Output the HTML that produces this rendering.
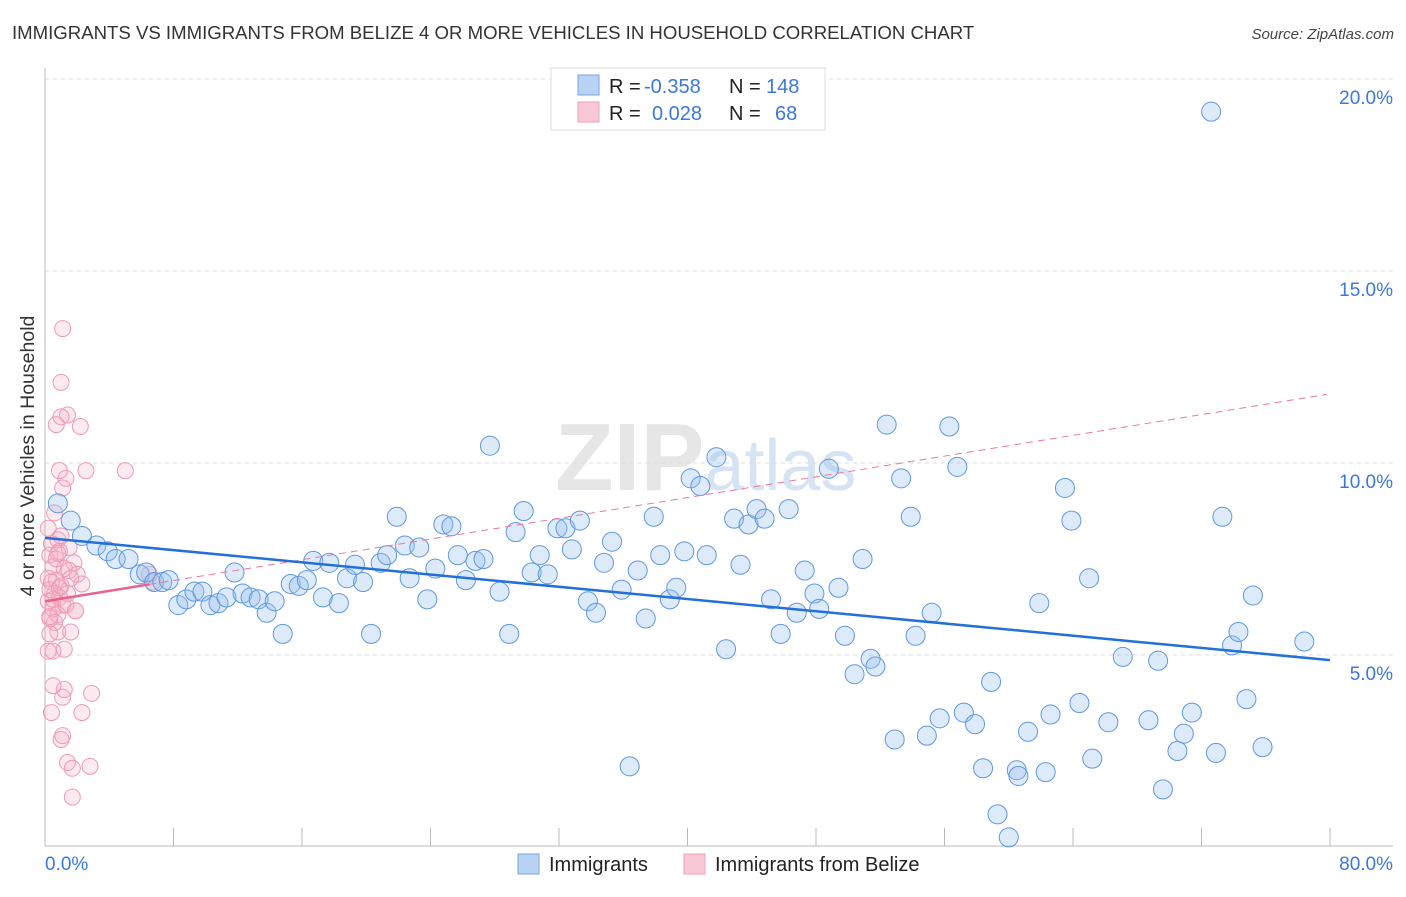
<!DOCTYPE html>
<html><head><meta charset="utf-8">
<style>
body{margin:0;background:#fff;font-family:"Liberation Sans",sans-serif;}
svg text{font-family:"Liberation Sans",sans-serif;}
</style></head>
<body>
<svg id="chart" width="1406" height="892" viewBox="0 0 1406 892" xmlns="http://www.w3.org/2000/svg">
<text x="12" y="39" font-size="18.6" fill="#333">IMMIGRANTS VS IMMIGRANTS FROM BELIZE 4 OR MORE VEHICLES IN HOUSEHOLD CORRELATION CHART</text>
<text x="1394" y="39" font-size="15" fill="#444" font-style="italic" text-anchor="end">Source: ZipAtlas.com</text>
<text x="555" y="490" font-size="96" fill="#e6e6e6" font-family="Liberation Serif" font-weight="bold">ZIP<tspan fill="#d6e3f3" font-family="Liberation Sans" font-weight="normal" font-size="72">atlas</tspan></text>
<g id="grid"></g>
<g id="axes"></g>
<g id="pink"></g>
<g id="blue"></g>
<g id="lines"></g>
<text transform="translate(34,456) rotate(-90)" font-size="19.5" fill="#333" text-anchor="middle">4 or more Vehicles in Household</text>
<text x="45" y="870" font-size="19" fill="#3b78d8">0.0%</text>
<text x="1393" y="870" font-size="19" fill="#3b78d8" text-anchor="end">80.0%</text>
<g>
<rect x="551" y="68" width="274" height="62" fill="#fff" stroke="#ddd"/>
<rect x="578" y="75" width="21" height="20" fill="#b9d3f5" stroke="#7aa6e0"/>
<rect x="578" y="102" width="21" height="20" fill="#f9c7d6" stroke="#f0a0b8"/>
<text x="609" y="93" font-size="20" fill="#222">R =</text>
<text x="644" y="93" font-size="20" fill="#3b78d8">-0.358</text>
<text x="729" y="93" font-size="20" fill="#222">N =</text>
<text x="766" y="93" font-size="20" fill="#3b78d8">148</text>
<text x="609" y="120" font-size="20" fill="#222">R =</text>
<text x="652" y="120" font-size="20" fill="#3b78d8">0.028</text>
<text x="729" y="120" font-size="20" fill="#222">N =</text>
<text x="775" y="120" font-size="20" fill="#3b78d8">68</text>
</g>
<g>
<rect x="518" y="854" width="21" height="20" fill="#b9d3f5" stroke="#7aa6e0"/>
<text x="549" y="871" font-size="20" fill="#222">Immigrants</text>
<rect x="684" y="854" width="21" height="20" fill="#f9c7d6" stroke="#f0a0b8"/>
<text x="715" y="871" font-size="20" fill="#222">Immigrants from Belize</text>
</g>
</svg>
<script>
const yTicks=[5,10,15,20];
const yTickLabels=["5.0%","10.0%","15.0%","20.0%"];
const blueX=[0.8,1.6,2.3,3.2,3.9,4.4,5.2,5.9,6.3,6.8,7.3,7.7,8.3,8.8,9.3,9.8,10.3,10.8,11.3,11.8,12.3,12.8,13.3,13.8,14.3,14.8,15.3,15.8,16.3,16.7,17.3,17.7,18.3,18.8,19.3,19.8,20.3,20.9,21.3,21.9,22.4,22.7,23.3,23.8,24.3,24.8,25.3,25.7,26.2,26.8,27.3,27.7,28.3,28.9,29.3,29.8,30.3,30.8,31.3,31.9,32.4,32.8,33.3,33.8,34.3,34.8,35.3,35.9,36.4,36.9,37.4,37.9,38.3,38.9,39.3,39.8,40.2,40.8,41.2,41.8,42.4,42.9,43.3,43.8,44.3,44.8,45.2,45.8,46.3,46.8,47.3,47.9,48.2,48.8,49.4,49.8,50.4,50.9,51.4,51.7,52.4,52.9,53.3,53.9,54.2,54.9,55.2,55.7,56.3,56.8,57.2,57.9,58.4,58.9,59.3,60.0,60.5,60.6,61.2,61.9,62.3,62.6,63.5,63.9,64.4,65.0,65.2,66.2,67.1,68.7,69.3,69.6,70.5,70.9,71.4,72.6,72.9,73.3,73.9,74.3,74.8,75.2,75.8,78.4];
const blueY=[8.95,8.5,8.1,7.85,7.7,7.5,7.5,7.1,7.15,6.9,6.9,6.95,6.3,6.45,6.65,6.65,6.3,6.35,6.5,7.15,6.6,6.5,6.45,6.1,6.4,5.55,6.85,6.8,6.95,7.45,6.5,7.4,6.35,7.0,7.35,6.9,5.55,7.4,7.6,8.6,7.85,7.0,7.8,6.45,7.25,8.4,8.35,7.6,6.95,7.45,7.5,10.45,6.65,5.55,8.2,8.75,7.15,7.6,7.1,8.3,8.3,7.75,8.5,6.4,6.1,7.4,7.95,6.7,2.1,7.2,5.95,8.6,7.6,6.45,6.75,7.7,9.6,9.4,7.6,10.15,5.15,8.55,7.35,8.4,8.8,8.55,6.45,5.55,8.8,6.1,7.2,6.6,6.2,9.85,6.75,5.5,4.5,7.5,4.9,4.7,11.0,2.8,9.6,8.6,5.5,2.9,6.1,3.35,10.95,9.9,3.5,3.2,2.05,4.3,0.85,0.25,2.0,1.85,3.0,6.35,1.95,3.45,9.35,8.5,3.75,7.0,2.3,3.25,4.95,3.3,4.85,1.5,2.5,2.95,3.5,19.15,2.45,8.6,5.25,5.6,3.85,6.55,2.6,5.35];
const pinkX=[1.1,1.0,1.4,0.7,1.0,2.2,2.55,5.0,0.9,1.3,1.1,0.6,1.0,0.4,0.8,1.5,0.3,0.9,1.8,0.5,1.2,2.0,0.2,0.7,1.6,0.4,1.0,2.3,0.3,0.6,1.4,0.9,0.2,1.1,1.9,0.5,0.8,0.3,1.3,0.6,6.7,6.5,1.9,1.6,0.8,0.3,0.2,0.5,1.2,2.9,2.3,0.5,1.1,1.0,1.4,1.7,2.8,1.7,1.1,0.4,0.7,1.5,0.2,0.9,0.5,1.2,0.3,0.8];
const pinkY=[13.5,12.1,11.25,11.0,11.2,10.95,9.8,9.8,9.8,9.6,9.35,8.7,8.1,7.9,8.0,7.8,7.6,7.7,7.4,7.3,7.25,7.1,7.0,6.95,7.0,6.9,6.8,6.85,6.7,6.6,6.6,6.5,6.4,6.3,6.15,6.2,6.05,5.95,6.3,5.85,6.9,7.1,6.15,5.6,5.6,5.55,5.1,5.1,4.1,4.0,3.5,4.2,3.9,2.8,2.2,2.05,2.1,1.3,2.9,3.5,7.5,7.2,8.3,6.75,6.45,5.15,6.0,7.65];
const blueTrend=[8.05,-0.0398];
const pinkTrend=[6.4,0.0675];
const pinkSolidMaxX=6.5;

const X0=45,X1=1330,Y0=847,PXPER=38.4;
const sx=v=>X0+v*(X1-X0)/80;
const sy=v=>Y0-v*PXPER;
const NS="http://www.w3.org/2000/svg";
function mk(tag,attrs,parent){const e=document.createElementNS(NS,tag);for(const k in attrs)e.setAttribute(k,attrs[k]);parent.appendChild(e);return e;}
const grid=document.getElementById('grid'),axes=document.getElementById('axes');
yTicks.forEach((t,i)=>{
  const l=mk('line',{x1:45,x2:1393,y1:sy(t),y2:sy(t),stroke:'#ddd','stroke-dasharray':'4,4'},grid);
  
  
  const tx=mk('text',{x:1393,y:sy(t)+25,'font-size':19,fill:'#3b78d8','text-anchor':'end'},grid);
  tx.textContent=yTickLabels[i];
  
  
});
const ya=mk('line',{x1:45,x2:45,y1:68,y2:846,stroke:'#bbb'},axes);


const xa=mk('line',{x1:45,x2:1393,y1:846,y2:846,stroke:'#bbb'},axes);


for(let i=1;i<=10;i++){
  const t=mk('line',{x1:sx(i*8),x2:sx(i*8),y1:828,y2:846,stroke:'#bbb'},axes);
  
  
}
const pg=document.getElementById('pink');
pinkX.forEach((x,i)=>{
  const c=mk('circle',{cx:sx(x),cy:sy(pinkY[i]),r:8,fill:'rgba(245,170,195,0.25)',stroke:'#ee9ab4','stroke-width':1},pg);
  
  
});
const bg=document.getElementById('blue');
blueX.forEach((x,i)=>{
  const c=mk('circle',{cx:sx(x),cy:sy(blueY[i]),r:9.5,fill:'rgba(150,190,240,0.32)',stroke:'#5e98e0','stroke-width':1},bg);
  
  
});
const lg=document.getElementById('lines');
const pd=mk('line',{x1:sx(pinkSolidMaxX),y1:sy(pinkTrend[0]+pinkTrend[1]*pinkSolidMaxX),x2:sx(79.8),y2:sy(pinkTrend[0]+pinkTrend[1]*79.8),stroke:'#e87a9c','stroke-width':1,'stroke-dasharray':'7,5'},lg);


const ps=mk('line',{x1:sx(0),y1:sy(pinkTrend[0]),x2:sx(pinkSolidMaxX),y2:sy(pinkTrend[0]+pinkTrend[1]*pinkSolidMaxX),stroke:'#e8648c','stroke-width':2.5},lg);


const bl=mk('line',{x1:sx(0),y1:sy(blueTrend[0]),x2:sx(80),y2:sy(blueTrend[0]+blueTrend[1]*80),stroke:'#2270d8','stroke-width':2.5},lg);


</script>
</body></html>
